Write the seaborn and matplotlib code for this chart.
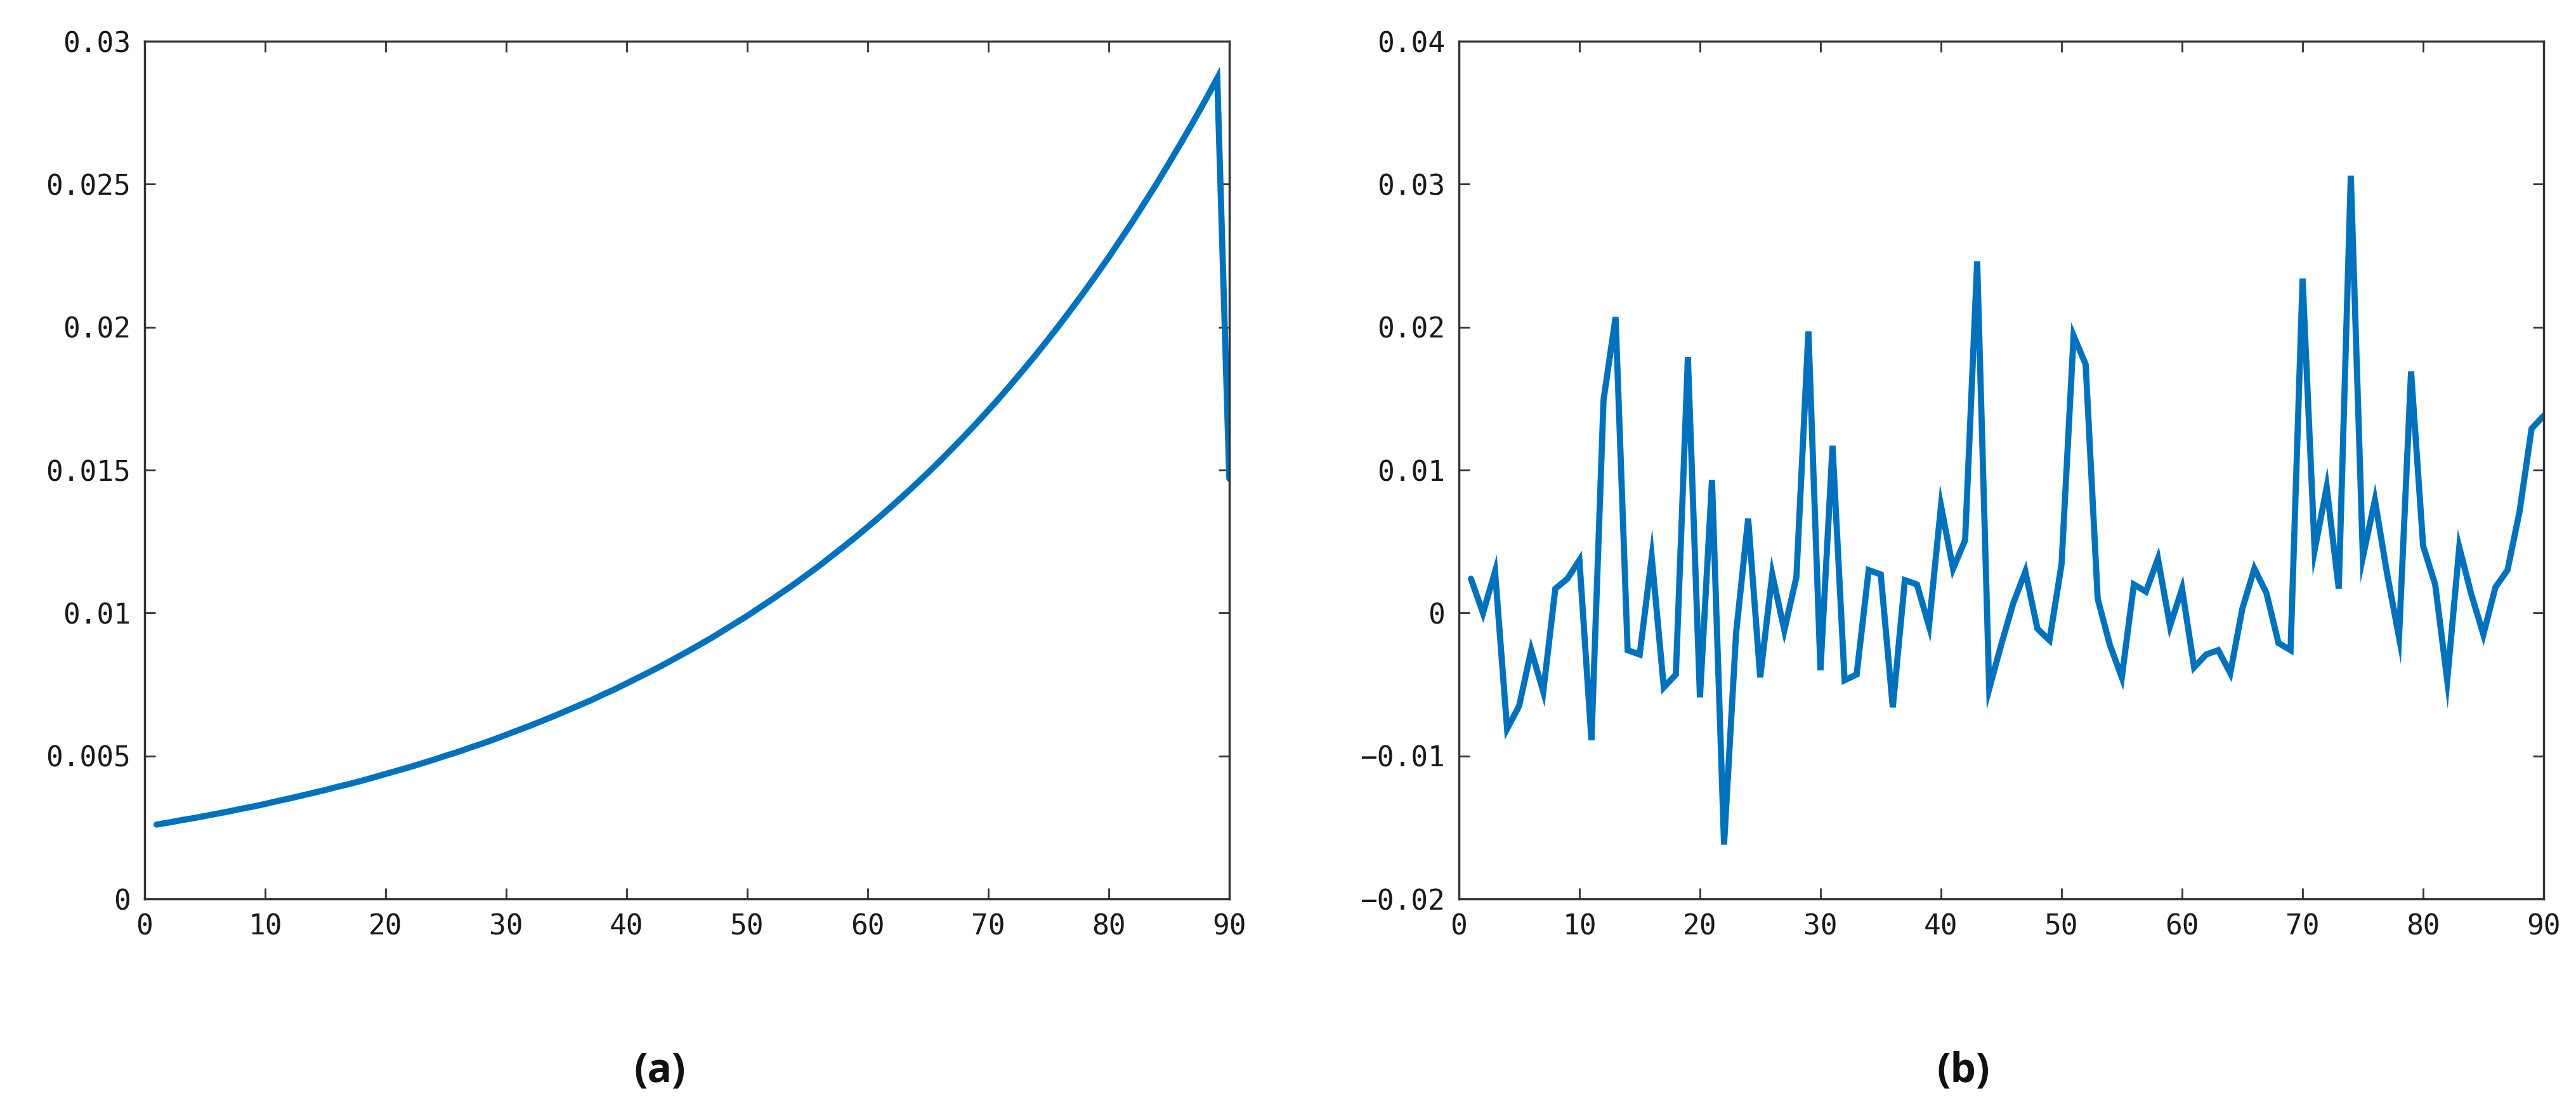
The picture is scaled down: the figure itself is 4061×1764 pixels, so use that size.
import numpy as np
import pandas as pd
import matplotlib
matplotlib.use("Agg")
import matplotlib.pyplot as plt
import seaborn as sns

# (a) smooth rising series, index 1..90
steps = list(range(1, 91))
series_a = [
    0.00260, 0.00267, 0.00275, 0.00282, 0.00290, 0.00298, 0.00306, 0.00315, 0.00323, 0.00332,
    0.00342, 0.00351, 0.00361, 0.00371, 0.00381, 0.00392, 0.00402, 0.00413, 0.00425, 0.00437,
    0.00449, 0.00461, 0.00474, 0.00487, 0.00501, 0.00514, 0.00529, 0.00543, 0.00558, 0.00574,
    0.00590, 0.00606, 0.00623, 0.00640, 0.00658, 0.00676, 0.00694, 0.00714, 0.00733, 0.00754,
    0.00775, 0.00796, 0.00818, 0.00841, 0.00864, 0.00888, 0.00912, 0.00938, 0.00964, 0.00990,
    0.01018, 0.01046, 0.01075, 0.01104, 0.01135, 0.01166, 0.01199, 0.01232, 0.01266, 0.01301,
    0.01337, 0.01374, 0.01412, 0.01451, 0.01491, 0.01532, 0.01575, 0.01618, 0.01663, 0.01709,
    0.01756, 0.01805, 0.01855, 0.01906, 0.01959, 0.02013, 0.02069, 0.02126, 0.02185, 0.02245,
    0.02308, 0.02371, 0.02437, 0.02504, 0.02574, 0.02645, 0.02718, 0.02793, 0.02871, 0.01470,
]

# (b) noisy series, index 1..90
series_b = [
    0.0024, 0.0000, 0.0029, -0.0081, -0.0065, -0.0026, -0.0055, 0.0017, 0.0024, 0.0037,
    -0.0089, 0.0149, 0.0207, -0.0026, -0.0029, 0.0039, -0.0052, -0.0043, 0.0179, -0.0059,
    0.0093, -0.0162, -0.0014, 0.0066, -0.0045, 0.0027, -0.0012, 0.0025, 0.0197, -0.0040,
    0.0117, -0.0047, -0.0043, 0.0030, 0.0027, -0.0066, 0.0023, 0.0020, -0.0009, 0.0075,
    0.0031, 0.0051, 0.0246, -0.0053, -0.0022, 0.0007, 0.0029, -0.0011, -0.0019, 0.0034,
    0.0194, 0.0174, 0.0010, -0.0022, -0.0045, 0.0020, 0.0015, 0.0038, -0.0009, 0.0017,
    -0.0038, -0.0029, -0.0026, -0.0042, 0.0003, 0.0031, 0.0014, -0.0021, -0.0026, 0.0234,
    0.0044, 0.0088, 0.0017, 0.0306, 0.0039, 0.0079, 0.0028, -0.0017, 0.0169, 0.0047,
    0.0020, -0.0047, 0.0046, 0.0013, -0.0015, 0.0018, 0.0030, 0.0071, 0.0129, 0.0138,
]

x_ticks = [0, 10, 20, 30, 40, 50, 60, 70, 80, 90]
y_ticks_a = [0, 0.005, 0.01, 0.015, 0.02, 0.025, 0.03]
y_labels_a = ["0", "0.005", "0.01", "0.015", "0.02", "0.025", "0.03"]
y_ticks_b = [-0.02, -0.01, 0, 0.01, 0.02, 0.03, 0.04]
y_labels_b = ["\u22120.02", "\u22120.01", "0", "0.01", "0.02", "0.03", "0.04"]
panel_names = ["(a)", "(b)"]

sns.set_theme(style="white")
plt.rcParams["font.family"] = ["DejaVu Sans Mono"]

line_color = "#0072BD"
axis_color = "#333333"

fig = plt.figure(figsize=(40.62, 17.64), dpi=100)
ax_a = fig.add_axes([0.0561, 0.1967, 0.421, 0.7664])
ax_b = fig.add_axes([0.5662, 0.1967, 0.421, 0.7664])

df_a = pd.DataFrame({"step": steps, "value": series_a})
df_b = pd.DataFrame({"step": steps, "value": series_b})

sns.lineplot(data=df_a, x="step", y="value", ax=ax_a, color=line_color,
             linewidth=7, solid_joinstyle="miter")
sns.lineplot(data=df_b, x="step", y="value", ax=ax_b, color=line_color,
             linewidth=7, solid_joinstyle="miter")

setups = [
    (ax_a, (0, 0.03), y_ticks_a, y_labels_a),
    (ax_b, (-0.02, 0.04), y_ticks_b, y_labels_b),
]
for ax, ylim, yt, yl in setups:
    ax.set_xlim(0, 90)
    ax.set_ylim(*ylim)
    ax.set_xticks(x_ticks)
    ax.set_xticklabels([str(t) for t in x_ticks])
    ax.set_yticks(yt)
    ax.set_yticklabels(yl)
    ax.set_xlabel("")
    ax.set_ylabel("")
    for sp in ax.spines.values():
        sp.set_visible(True)
        sp.set_color(axis_color)
        sp.set_linewidth(2.5)
    ax.tick_params(axis="both", which="major", direction="in", length=12, width=2,
                   color=axis_color, labelsize=32, labelcolor="#1a1a1a",
                   top=True, right=True, bottom=True, left=True)
    ax.tick_params(axis="y", pad=16)
    ax.tick_params(axis="x", pad=16)

# panel captions under each plot
for xpos, name in zip([0.256, 0.762], panel_names):
    fig.text(xpos, 0.042, name, ha="center", va="center",
             fontsize=46, fontweight="bold", family=["Open Sans", "DejaVu Sans"],
             color="#111111")

fig.savefig("out.png", dpi=100, facecolor="white")
